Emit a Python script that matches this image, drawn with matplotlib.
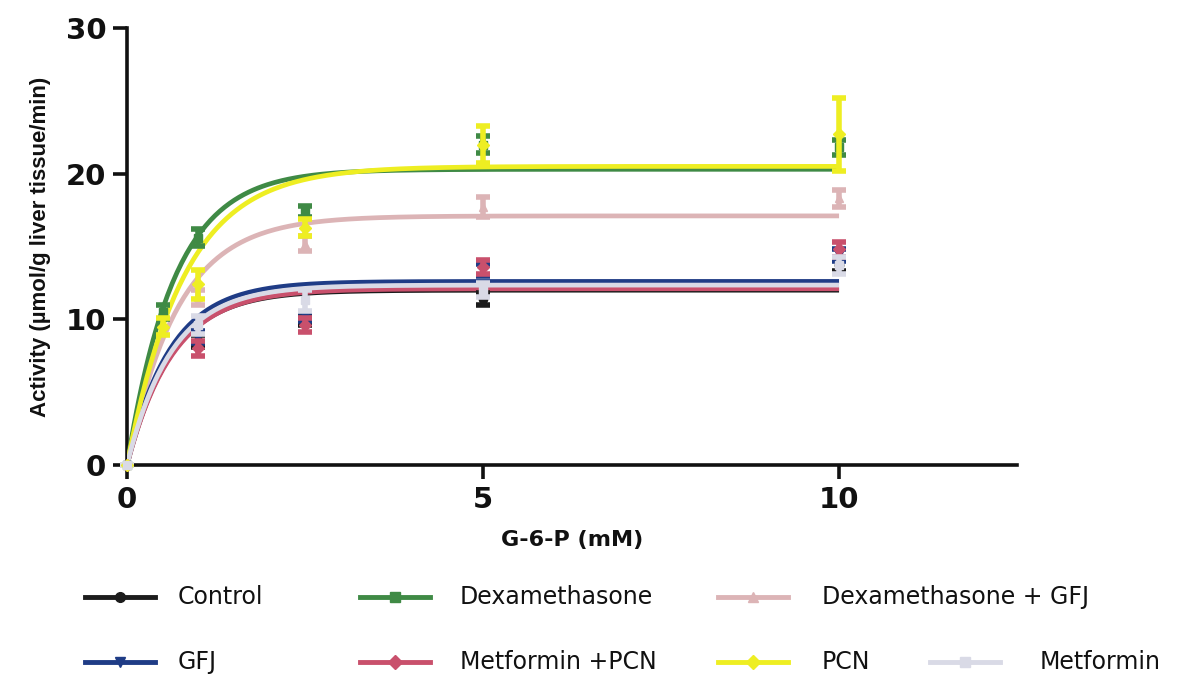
import numpy as np
import matplotlib.pyplot as plt
from matplotlib.lines import Line2D

# G-6-P concentrations (mM)
conc = [0, 0.5, 1, 2.5, 5, 10]

groups = ["Control", "Dexamethasone", "Dexamethasone + GFJ",
          "GFJ", "Metformin +PCN", "PCN", "Metformin"]

# mean activity (umol/g liver tissue/min)
control = [0, np.nan, 8.5, 10.0, 11.4, 13.7]
dexa = [0, 10.5, 15.6, 17.4, 22.0, 21.8]
dexa_gfj = [0, np.nan, 11.5, 15.2, 17.7, 18.3]
gfj = [0, np.nan, 8.8, 10.2, 13.4, 14.4]
met_pcn = [0, np.nan, 8.0, 9.6, 13.6, 14.8]
pcn = [0, 9.5, 12.4, 16.3, 22.0, 22.7]
metformin = [0, np.nan, 9.6, 11.3, 12.0, 13.7]

# SEM
control_err = [0, np.nan, 0.4, 0.4, 0.4, 0.4]
dexa_err = [0, 0.5, 0.6, 0.4, 0.6, 0.5]
dexa_gfj_err = [0, np.nan, 0.5, 0.5, 0.7, 0.6]
gfj_err = [0, np.nan, 0.4, 0.3, 0.4, 0.4]
met_pcn_err = [0, np.nan, 0.5, 0.5, 0.5, 0.5]
pcn_err = [0, 0.6, 1.0, 0.6, 1.3, 2.5]
metformin_err = [0, np.nan, 0.6, 0.7, 0.5, 0.6]

# one-phase association fit: plateau and rate constant
plateau = [12.0, 20.3, 17.1, 12.6, 12.1, 20.5, 12.35]
rate = [1.6, 1.5, 1.4, 1.65, 1.55, 1.25, 1.6]

means = [control, dexa, dexa_gfj, gfj, met_pcn, pcn, metformin]
errs = [control_err, dexa_err, dexa_gfj_err, gfj_err, met_pcn_err, pcn_err, metformin_err]
colors = ["#1c1c1c", "#3f8a45", "#dcb4b6", "#1f3c86", "#c9506c", "#eeee22", "#d9dae6"]
markers = ["o", "s", "^", "v", "D", "D", "s"]

plt.rcParams["font.family"] = ["DejaVu Sans"]

fig = plt.figure(figsize=(11.94, 6.78), dpi=100)
ax = fig.add_axes([0.1064, 0.3142, 0.7454, 0.6445])

xfit = np.linspace(0, 10, 300)
draw_order = [0, 3, 6, 4, 1, 2, 5]
for i in draw_order:
    yfit = plateau[i] * (1 - np.exp(-rate[i] * xfit))
    ax.plot(xfit, yfit, color=colors[i], lw=3.4, zorder=3 + i * 0.1, solid_capstyle="butt")
    ax.errorbar(conc, means[i], yerr=errs[i], fmt=markers[i], ms=6, color=colors[i],
                ecolor=colors[i], elinewidth=4, capsize=5, capthick=4,
                zorder=4 + i * 0.1, clip_on=False)

ax.set_xlim(0, 12.5)
ax.set_ylim(0, 30)
ax.set_xticks([0, 5, 10])
ax.set_yticks([0, 10, 20, 30])
for side in ["top", "right"]:
    ax.spines[side].set_visible(False)
for side in ["left", "bottom"]:
    ax.spines[side].set_linewidth(2.6)
    ax.spines[side].set_color("#111111")
ax.tick_params(direction="out", length=10, width=2.6, color="#111111", pad=5)
for lab in ax.get_xticklabels() + ax.get_yticklabels():
    lab.set_fontsize(21)
    lab.set_fontweight("bold")
    lab.set_color("#111111")

ax.set_xlabel("G-6-P (mM)", fontsize=16, fontweight="bold", color="#111111", labelpad=12)
ax.set_ylabel("Activity (µmol/g liver tissue/min)", fontsize=16, color="#111111",
              family=["Liberation Sans"], fontweight="bold")
ax.yaxis.set_label_coords(-0.085, 0.5)

# legend laid out in two rows: (series, row, line start px, text start px)
row_y = [597 / 678, 662 / 678]
slots = [(0, 0, 85, 178), (1, 0, 360, 460), (2, 0, 718, 822),
         (3, 1, 85, 178), (4, 1, 360, 460), (5, 1, 718, 822), (6, 1, 930, 1040)]
for i, row, lx, tx in slots:
    yf = 1 - row_y[row]
    fig.add_artist(Line2D([lx / 1194, (lx + 70) / 1194], [yf, yf], color=colors[i], lw=3.5,
                          transform=fig.transFigure))
    fig.add_artist(Line2D([(lx + 35) / 1194], [yf], color=colors[i], marker=markers[i], ms=7,
                          transform=fig.transFigure))
    fig.text(tx / 1194, yf, groups[i], fontsize=17, color="#111111", va="center", ha="left")

fig.savefig("out.png", dpi=100)
